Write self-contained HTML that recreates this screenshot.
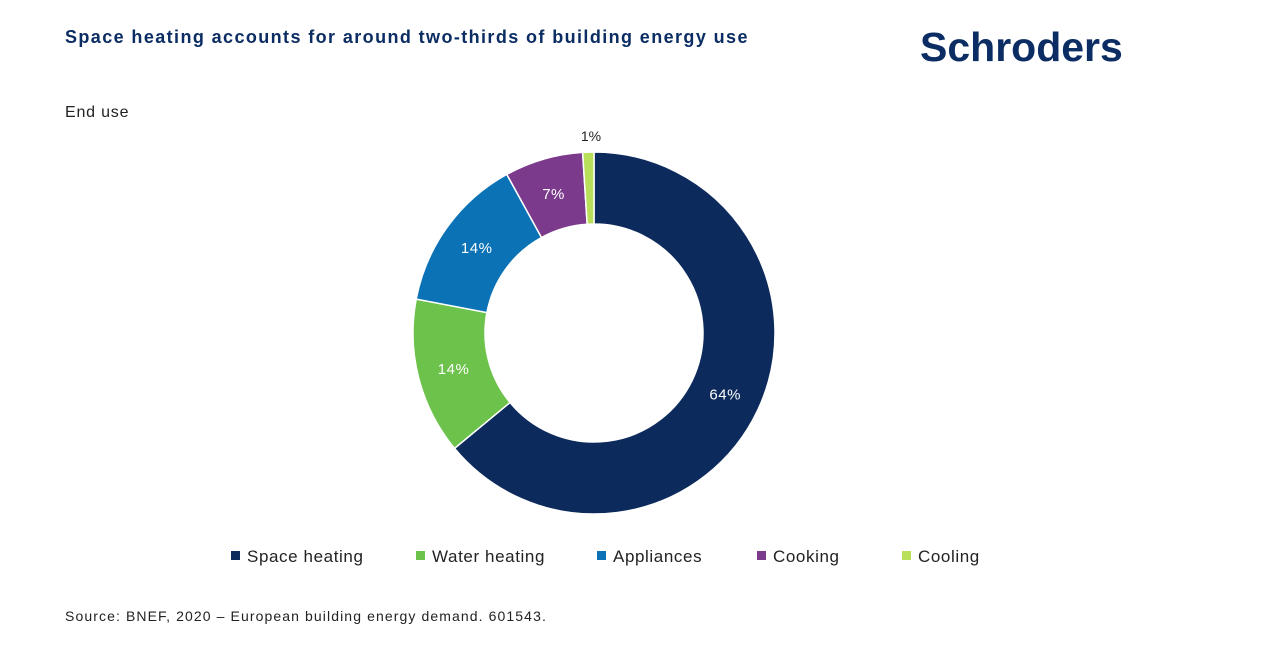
<!DOCTYPE html>
<html><head><meta charset="utf-8"><style>
body{margin:0;width:1269px;height:654px;background:#fff;font-family:"Liberation Sans",sans-serif;position:relative;overflow:hidden}
.t{position:absolute;white-space:nowrap}
</style></head><body>
<div class="t" style="left:65px;top:27px;font-size:18px;font-weight:bold;color:#0b2d63;letter-spacing:1.4px">Space heating accounts for around two-thirds of building energy use</div>
<div class="t" style="left:920px;top:24px;font-size:41px;font-weight:bold;color:#0b2d63;letter-spacing:0px">Schroders</div>
<div class="t" style="left:65px;top:104px;font-size:16px;color:#222;letter-spacing:0.8px">End use</div>
<svg width="1269" height="654" style="position:absolute;left:0;top:0" id="s"></svg>
<div class="t" style="left:65px;top:608px;font-size:14px;color:#222;letter-spacing:1.1px">Source: BNEF, 2020 – European building energy demand. 601543.</div>
<script>
var s=document.getElementById('s'),cx=594,cy=333,R=181,r=109;
var d=[[64,'#0c2a5b','64%',1],[14,'#6cc24a','14%',1],[14,'#0a72b5','14%',1],[7,'#7b3a8c','7%',1],[1,'#b8e05a','',0]];
var a=0,h='';
function p(t,rr){var g=(t/100)*2*Math.PI-Math.PI/2;return [cx+rr*Math.cos(g),cy+rr*Math.sin(g)];}
d.forEach(function(x){var b=a+x[0],L=x[0]>50?1:0,p1=p(a,R),p2=p(b,R),p3=p(b,r),p4=p(a,r);
h+='<path d="M'+p1+'A'+R+','+R+' 0 '+L+' 1 '+p2+'L'+p3+'A'+r+','+r+' 0 '+L+' 0 '+p4+'Z" fill="'+x[1]+'" stroke="#fff" stroke-width="1.5"/>';
if(x[2]){var m=p((a+b)/2,(R+r)/2);h+='<text x="'+m[0]+'" y="'+(m[1]+5)+'" text-anchor="middle" font-size="15" fill="#fff" letter-spacing="0.5" font-family="Liberation Sans">'+x[2]+'</text>';}
a=b;});
h+='<text x="591" y="141" text-anchor="middle" font-size="14" fill="#222" font-family="Liberation Sans">1%</text>';
var lg=[[231,'#0c2a5b','Space heating'],[416,'#6cc24a','Water heating'],[597,'#0a72b5','Appliances'],[757,'#7b3a8c','Cooking'],[902,'#b8e05a','Cooling']];
lg.forEach(function(l){h+='<rect x="'+l[0]+'" y="551" width="9" height="9" fill="'+l[1]+'"/><text x="'+(l[0]+16)+'" y="562" font-size="17" letter-spacing="0.6" fill="#222" font-family="Liberation Sans">'+l[2]+'</text>';});
s.innerHTML=h;
</script>
</body></html>
